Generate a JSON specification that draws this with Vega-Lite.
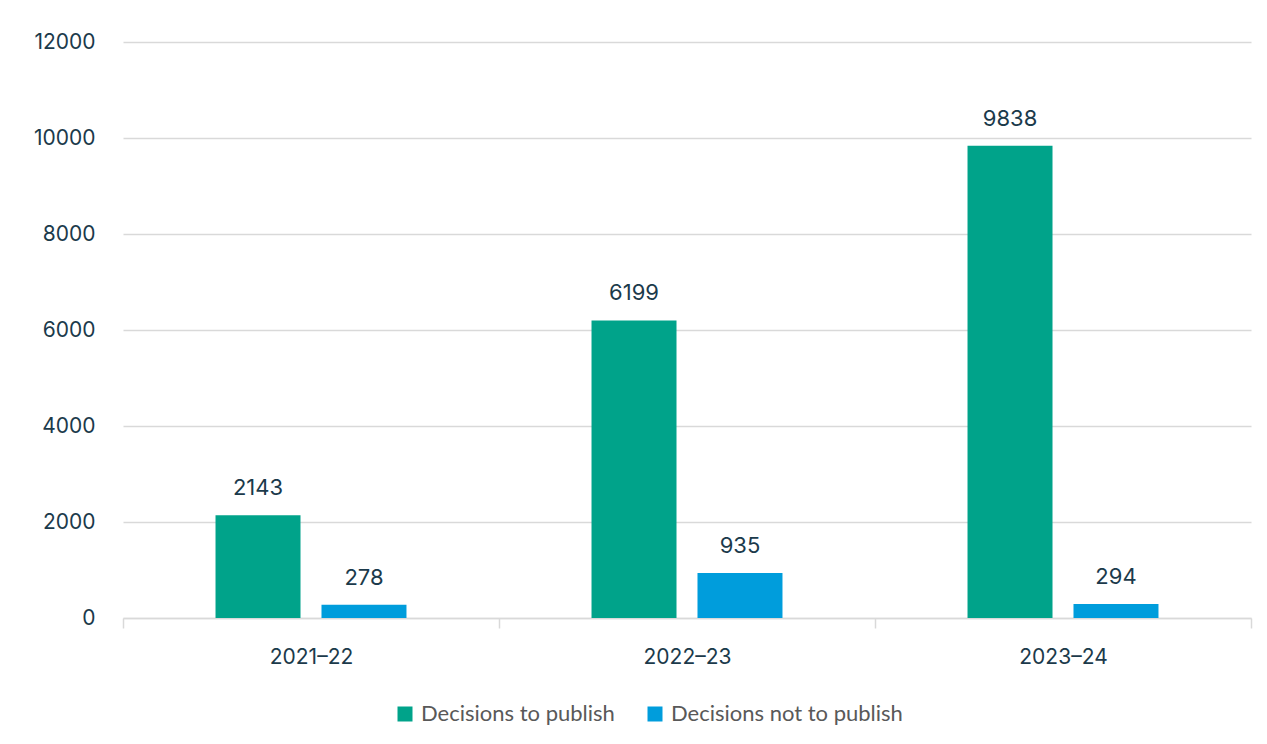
{
  "$schema": "https://vega.github.io/schema/vega-lite/v6.json",
  "width": 1128,
  "height": 576,
  "padding": {"left": 123, "top": 42, "right": 16, "bottom": 126},
  "autosize": {"type": "none"},
  "background": "white",
  "data": {"values": [
    {"year": "2021–22", "series": "Decisions to publish", "value": 2143},
    {"year": "2021–22", "series": "Decisions not to publish", "value": 278},
    {"year": "2022–23", "series": "Decisions to publish", "value": 6199},
    {"year": "2022–23", "series": "Decisions not to publish", "value": 935},
    {"year": "2023–24", "series": "Decisions to publish", "value": 9838},
    {"year": "2023–24", "series": "Decisions not to publish", "value": 294}
  ]},
  "encoding": {
    "x": {"field": "year", "type": "nominal", "title": null,
      "scale": {"paddingInner": 0, "paddingOuter": 0},
      "axis": {"labelAngle": 0, "domainColor": "#d9d9d9", "domainWidth": 1.5, "tickColor": "#d9d9d9", "tickWidth": 1.5, "tickSize": 10, "tickBand": "extent", "labelPadding": 18, "labelFont": "Inter", "labelFontSize": 21, "labelColor": "#1b3a4b", "grid": false}},
    "xOffset": {"field": "series", "type": "nominal", "sort": ["Decisions to publish", "Decisions not to publish"],
      "scale": {"paddingInner": 0.198, "paddingOuter": 0.873}},
    "y": {"field": "value", "type": "quantitative", "title": null,
      "scale": {"domain": [0, 12000]},
      "axis": {"values": [0, 2000, 4000, 6000, 8000, 10000, 12000], "domain": false, "ticks": false, "labelPadding": 28, "labelFont": "Inter", "labelFontSize": 21, "labelColor": "#1b3a4b", "gridColor": "#d9d9d9", "gridWidth": 1.5, "format": "d"}}
  },
  "layer": [
    {"mark": {"type": "bar"},
     "encoding": {"color": {"field": "series", "type": "nominal", "sort": ["Decisions to publish", "Decisions not to publish"],
        "scale": {"domain": ["Decisions to publish", "Decisions not to publish"], "range": ["#00a38a", "#009ddc"]},
        "legend": {"title": null, "orient": "none", "legendX": 271, "legendY": 661, "direction": "horizontal", "symbolType": "square", "symbolSize": 225, "symbolStrokeWidth": 0, "symbolOpacity": 1, "labelFont": "Lato", "labelFontSize": 22, "labelColor": "#595959", "labelLimit": 0, "columnPadding": 29, "labelOffset": 5}}}},
    {"mark": {"type": "text", "dy": -27, "font": "Inter", "fontSize": 22, "color": "#1b3a4b"},
     "encoding": {"text": {"field": "value", "type": "quantitative", "format": "d"}}}
  ],
  "config": {"view": {"stroke": null}}
}
